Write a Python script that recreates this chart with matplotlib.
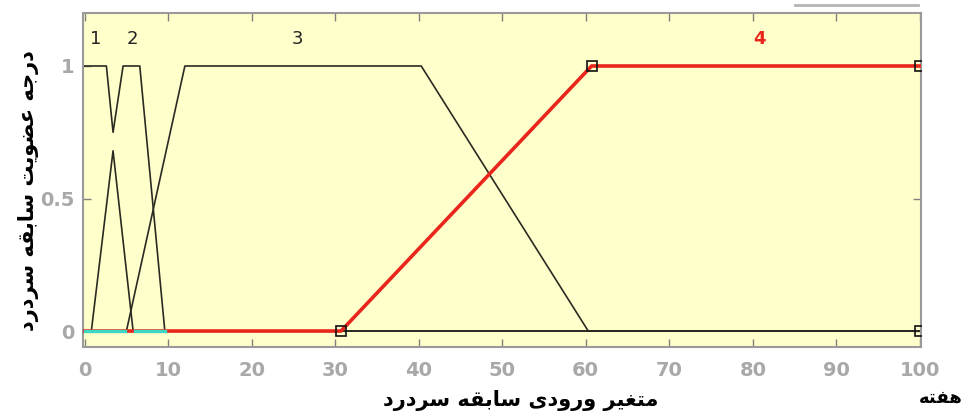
"""
Fuzzy membership functions for the headache-history input (weeks).
"""

import matplotlib
matplotlib.use("Agg")  # headless backend

import matplotlib.pyplot as plt
from matplotlib.lines import Line2D

# membership function vertices (x in weeks, y = degree of membership)
mf1_x = [0, 2.6, 3.4, 4.6, 6.6, 9.6, 100]
mf1_y = [1, 1, 0.75, 1, 1, 0, 0]
mf2_x = [0, 0.8, 3.4, 5.8, 100]
mf2_y = [0, 0, 0.68, 0, 0]
mf3_x = [0, 5.0, 12.0, 40.3, 60.3, 100]
mf3_y = [0, 0, 1, 1, 0, 0]
mf4_x = [0, 30.7, 60.7, 100]          # selected MF (red)
mf4_y = [0, 0, 1, 1]
handle_x = [30.7, 60.7, 100, 100]     # edit handles of the selected MF
handle_y = [0, 1, 1, 0]
cyan_segments = [([0, 4.8], [0, 0]), ([6.0, 9.6], [0, 0])]

mf_names = ["1", "2", "3", "4"]
mf_label_x = [1.3, 5.7, 25.5, 80.8]
x_ticks = list(range(0, 101, 10))
y_ticks = [0, 0.5, 1]

ylabel = "درجه عضویت سابقه سردرد"
xlabel = "متغیر ورودی سابقه سردرد"
unit_label = "هفته"

# --- minimal Arabic/Persian shaping (matplotlib has no complex text layout) ---
FORMS = {  # iso, fin, ini, med
    "ا": ("\uFE8D", "\uFE8E", None, None),
    "ب": ("\uFE8F", "\uFE90", "\uFE91", "\uFE92"),
    "ت": ("\uFE95", "\uFE96", "\uFE97", "\uFE98"),
    "ج": ("\uFE9D", "\uFE9E", "\uFE9F", "\uFEA0"),
    "د": ("\uFEA9", "\uFEAA", None, None),
    "ر": ("\uFEAD", "\uFEAE", None, None),
    "س": ("\uFEB1", "\uFEB2", "\uFEB3", "\uFEB4"),
    "ض": ("\uFEBD", "\uFEBE", "\uFEBF", "\uFEC0"),
    "ع": ("\uFEC9", "\uFECA", "\uFECB", "\uFECC"),
    "غ": ("\uFECD", "\uFECE", "\uFECF", "\uFED0"),
    "ف": ("\uFED1", "\uFED2", "\uFED3", "\uFED4"),
    "ق": ("\uFED5", "\uFED6", "\uFED7", "\uFED8"),
    "م": ("\uFEE1", "\uFEE2", "\uFEE3", "\uFEE4"),
    "ه": ("\uFEE9", "\uFEEA", "\uFEEB", "\uFEEC"),
    "و": ("\uFEED", "\uFEEE", None, None),
    "ی": ("\uFBFC", "\uFBFD", "\uFBFE", "\uFBFF"),
}


def shape(text):
    out = []
    for i, ch in enumerate(text):
        if ch not in FORMS:
            out.append(ch)
            continue
        prev = text[i - 1] if i > 0 else " "
        nxt = text[i + 1] if i + 1 < len(text) else " "
        join_prev = prev in FORMS and FORMS[prev][2] is not None
        join_next = nxt in FORMS and FORMS[ch][2] is not None
        iso, fin, ini, med = FORMS[ch]
        if join_prev and join_next:
            out.append(med)
        elif join_prev:
            out.append(fin)
        elif join_next:
            out.append(ini)
        else:
            out.append(iso)
    return "".join(out)[::-1]


fig = plt.figure(figsize=(9.65, 4.19), dpi=100)
ax = fig.add_axes([0.086, 0.172, 0.868, 0.797])
ax.set_facecolor("#ffffcc")

ax.plot(mf1_x, mf1_y, color="#2a2a22", lw=1.2)
ax.plot(mf2_x, mf2_y, color="#2a2a22", lw=1.2)
ax.plot(mf3_x, mf3_y, color="#2a2a22", lw=1.2)
ax.plot(mf4_x, mf4_y, color="#e8261c", lw=2.6, zorder=3)
for sx, sy in cyan_segments:
    ax.plot(sx, sy, color="#3fd6c4", lw=2.4, zorder=4)
ax.plot(handle_x, handle_y, ls="none", marker="s", ms=7, mfc="none",
        mec="#111111", mew=1.2, zorder=5)

for name, lx in zip(mf_names, mf_label_x):
    ax.text(lx, 1.1, name, ha="center", va="center", fontsize=13,
            color="#e8261c" if name == "4" else "#222222",
            fontweight="bold" if name == "4" else "normal")

ax.set_xlim(-0.2, 100.1)
ax.set_ylim(-0.06, 1.2)
ax.set_xticks(x_ticks, labels=[str(t) for t in x_ticks])
ax.set_yticks(y_ticks, labels=["0", "0.5", "1"])
ax.tick_params(direction="in", length=6, width=1, color="#808080",
               top=True, right=True, labelcolor="#a8a8a8", labelsize=14)
for lab in ax.get_xticklabels() + ax.get_yticklabels():
    lab.set_fontweight("bold")
ax.tick_params(axis="x", pad=10)
ax.tick_params(axis="y", pad=6)
for sp in ax.spines.values():
    sp.set_color("#9a9a9a")
    sp.set_linewidth(1.5)

fig.text(0.030, 0.545, shape(ylabel), rotation=90, ha="center", va="center",
         fontsize=15, fontweight="bold")
fig.text(0.540, 0.045, shape(xlabel), ha="center", va="center",
         fontsize=15, fontweight="bold")
fig.text(0.975, 0.050, shape(unit_label), ha="center", va="center",
         fontsize=13, fontweight="bold")

# stray grey bar above the plot (part of the original screenshot)
fig.add_artist(Line2D([0.824, 0.951], [0.987, 0.987], color="#b4b4b4", lw=2))

fig.savefig("out.png")
